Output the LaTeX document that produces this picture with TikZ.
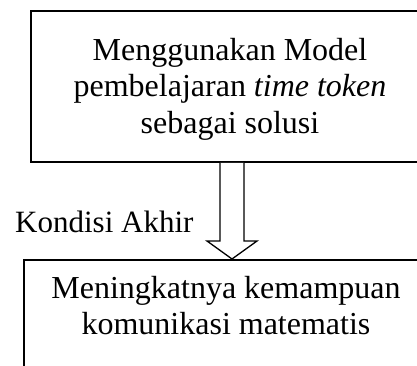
\documentclass[tikz,border=0pt]{standalone}
\usepackage{fontspec}
\setmainfont{Liberation Serif}
\begin{document}
\begin{tikzpicture}[x=1pt,y=-1pt,
  boxline/.style={draw=black,line width=2pt},
  txt/.style={inner sep=0pt,align=center,font=\fontsize{32}{36.5}\selectfont},
  blockarrow/.style={draw=black,line width=1.3pt,line join=miter,fill=white}]
\useasboundingbox (0,0) rectangle (417,366);
\clip (0,0) rectangle (417,366);
% boxes (extend past the right and bottom edges of the picture)
\node[boxline,rectangle,anchor=north west,minimum width=420pt,minimum height=151pt,inner sep=0pt] (topbox) at (30,10) {};
\node[boxline,rectangle,anchor=north west,minimum width=420pt,minimum height=140pt,inner sep=0pt] (botbox) at (23,259) {};
% texts
\node[txt] (toptext) at (230,89) {Menggunakan Model\\pembelajaran \textit{time token}\\sebagai solusi};
\node[txt] (bottext) at (226,305.5) {Meningkatnya kemampuan\\komunikasi matematis};
\node[txt,anchor=base west,font=\fontsize{31}{36}\selectfont] (label) at (15,232) {Kondisi Akhir};
% block arrow
\coordinate (astart) at (topbox.south -| 232,0);
\coordinate (aend) at (botbox.north -| 232,0);
\draw[blockarrow] ([xshift=-12pt]astart) -- ([xshift=-12pt,yshift=18pt]aend) -- ([xshift=-25pt,yshift=18pt]aend) -- (aend) -- ([xshift=25pt,yshift=18pt]aend) -- ([xshift=12pt,yshift=18pt]aend) -- ([xshift=12pt]astart);
\end{tikzpicture}
\end{document}
